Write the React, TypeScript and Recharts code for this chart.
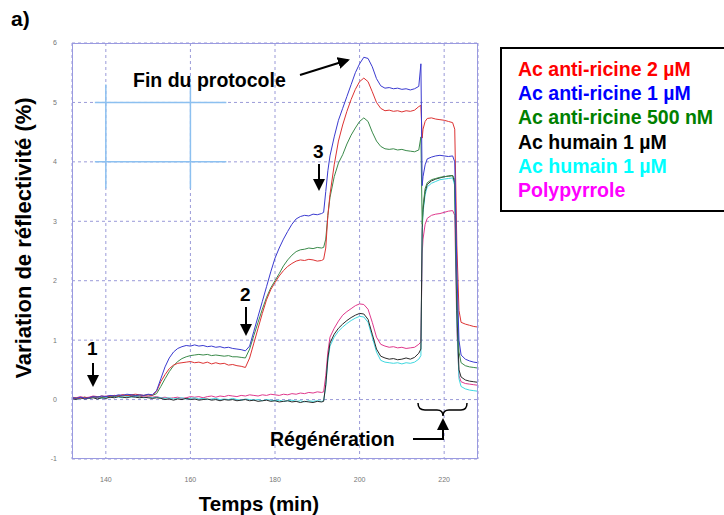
import { LineChart, Line, XAxis, YAxis, CartesianGrid, ReferenceLine } from "recharts";

const TIME = [
  132, 133, 134, 135, 136, 137, 138, 139, 140, 141, 142, 143, 144, 145, 146, 147, 148, 149, 150, 151,
  152, 153, 154, 155, 156, 157, 158, 159, 160, 161, 162, 163, 164, 165, 166, 167, 168, 169, 170, 171,
  172, 173, 174, 175, 176, 177, 178, 179, 180, 181, 182, 183, 184, 185, 186, 187, 188, 189, 190, 191,
  191.5, 192, 192.5, 193, 194, 195, 196, 197, 198, 199, 200, 201, 202, 203, 204, 205, 206, 207, 208, 209,
  210, 211, 212, 213, 214, 214.5, 214.8, 215, 215.5, 216, 217, 218, 219, 220, 221, 222, 222.5, 223, 223.5, 224,
  225, 226, 227, 228,
];

const RED_2UM = [
  0.02, 0.03, 0.02, 0.04, 0.03, 0.05, 0.04, 0.06, 0.05, 0.06, 0.07, 0.06, 0.08, 0.07, 0.08, 0.09, 0.08, 0.07, 0.08, 0.07,
  0.14, 0.3, 0.42, 0.52, 0.58, 0.61, 0.62, 0.63, 0.64, 0.62, 0.63, 0.61, 0.63, 0.6, 0.62, 0.6, 0.61, 0.58, 0.59, 0.57,
  0.56, 0.54, 0.7, 0.95, 1.2, 1.45, 1.68, 1.85, 1.97, 2.08, 2.17, 2.24, 2.29, 2.33, 2.35, 2.34, 2.36, 2.35, 2.33, 2.34,
  2.36, 2.55, 3.1, 3.45, 3.95, 4.35, 4.62, 4.85, 5.05, 5.22, 5.35, 5.41, 5.35, 5.18, 5.0, 4.9, 4.86, 4.87, 4.85, 4.86,
  4.84, 4.86, 4.85, 4.87, 4.93, 4.95, 4.4, 4.55, 4.68, 4.73, 4.74, 4.72, 4.71, 4.7, 4.68, 4.66, 4.55, 2.6, 1.5, 1.3,
  1.27, 1.25, 1.23, 1.22,
];

const BLUE_1UM = [
  0.03, 0.02, 0.04, 0.02, 0.03, 0.05, 0.04, 0.06, 0.05, 0.07, 0.06, 0.08, 0.07, 0.09, 0.08, 0.07, 0.08, 0.07, 0.09, 0.08,
  0.15, 0.35, 0.55, 0.7, 0.8, 0.86, 0.89, 0.91, 0.9, 0.92, 0.9, 0.91, 0.89, 0.9, 0.88, 0.89, 0.87, 0.88, 0.86, 0.85,
  0.84, 0.82, 0.9, 1.15, 1.4, 1.65, 1.9, 2.15, 2.38, 2.55, 2.7, 2.83, 2.95, 3.04, 3.08, 3.1, 3.09, 3.12, 3.11, 3.13,
  3.15, 3.5, 3.85, 4.1, 4.42, 4.7, 4.9, 5.1, 5.3, 5.5, 5.65, 5.76, 5.74, 5.6, 5.4, 5.28, 5.24, 5.25, 5.23, 5.24,
  5.22, 5.23, 5.21, 5.23, 5.27, 5.65, 3.6, 3.75, 3.95, 4.05, 4.08, 4.1, 4.11, 4.1, 4.09, 4.1, 4.0, 2.2, 1.0, 0.75,
  0.68, 0.65, 0.63, 0.62,
];

const GREEN_500NM = [
  0.03, 0.02, 0.03, 0.04, 0.02, 0.04, 0.05, 0.04, 0.05, 0.06, 0.05, 0.07, 0.06, 0.07, 0.08, 0.07, 0.06, 0.07, 0.08, 0.07,
  0.1, 0.22, 0.35, 0.47, 0.57, 0.64, 0.69, 0.72, 0.74, 0.75, 0.76, 0.75, 0.76, 0.74, 0.75, 0.74, 0.73, 0.74, 0.72, 0.72,
  0.71, 0.7, 0.85, 1.08, 1.3, 1.52, 1.72, 1.88, 2.0, 2.12, 2.25, 2.35, 2.43, 2.49, 2.52, 2.53, 2.55, 2.54, 2.56, 2.55,
  2.56, 2.7, 3.1, 3.4, 3.75, 3.98, 4.12, 4.3, 4.45, 4.57, 4.68, 4.74, 4.68, 4.5, 4.35, 4.26, 4.22, 4.21, 4.22, 4.2,
  4.21, 4.19, 4.18, 4.17, 4.2, 4.42, 2.95, 3.25, 3.55, 3.65, 3.7, 3.72, 3.74, 3.75, 3.76, 3.77, 3.7, 1.8, 0.8, 0.62,
  0.57, 0.55, 0.54, 0.53,
];

const BLACK_HUMAIN = [
  0.02, 0.0, 0.03, 0.01, 0.02, 0.03, 0.01, 0.03, 0.02, 0.04, 0.03, 0.05, 0.04, 0.03, 0.05, 0.04, 0.03, 0.04, 0.03, 0.02,
  0.03, 0.02, 0.0, 0.01, -0.01, 0.01, 0.0, 0.02, 0.0, 0.01, -0.01, 0.0, 0.01, -0.01, 0.0, -0.02, 0.0, -0.01, 0.0, -0.02,
  -0.01, 0.0, -0.02, -0.01, -0.03, -0.02, -0.01, -0.03, -0.02, -0.04, -0.03, -0.02, -0.04, -0.03, -0.05, -0.03, -0.04, -0.05, -0.03, -0.04,
  -0.03, 0.25, 0.7, 0.95, 1.1, 1.2, 1.27, 1.33, 1.38, 1.42, 1.45, 1.44, 1.35, 1.1, 0.85, 0.73, 0.7, 0.68, 0.69, 0.67,
  0.68, 0.7, 0.68, 0.71, 0.78, 0.85, 2.9, 3.2, 3.5, 3.62, 3.68, 3.71, 3.73, 3.75, 3.76, 3.77, 3.65, 1.5, 0.5, 0.38,
  0.33, 0.31, 0.3, 0.29,
];

const CYAN_HUMAIN = [
  0.03, 0.02, 0.01, 0.03, 0.02, 0.04, 0.03, 0.02, 0.04, 0.03, 0.05, 0.04, 0.03, 0.05, 0.04, 0.05, 0.04, 0.03, 0.04, 0.03,
  0.04, 0.03, 0.02, 0.03, 0.01, 0.02, 0.03, 0.01, 0.02, 0.03, 0.01, 0.02, 0.0, 0.01, 0.02, 0.0, 0.01, 0.0, 0.02, 0.0,
  -0.01, 0.01, 0.0, -0.01, 0.0, -0.02, 0.0, -0.01, -0.02, -0.01, -0.03, -0.02, -0.01, -0.03, -0.02, -0.04, -0.02, -0.03, -0.02, -0.03,
  -0.02, 0.22, 0.65, 0.9, 1.05, 1.15, 1.22, 1.28, 1.33, 1.37, 1.4, 1.39, 1.3, 1.05, 0.8, 0.66, 0.63, 0.62, 0.61, 0.62,
  0.6, 0.62, 0.61, 0.63, 0.68, 0.74, 2.8, 3.15, 3.45, 3.58, 3.64, 3.67, 3.7, 3.71, 3.72, 3.73, 3.6, 1.3, 0.35, 0.22,
  0.18, 0.16, 0.15, 0.14,
];

const MAGENTA_PPY = [
  0.04, 0.03, 0.05, 0.03, 0.04, 0.06, 0.05, 0.04, 0.06, 0.05, 0.07, 0.06, 0.08, 0.06, 0.07, 0.05, 0.06, 0.04, 0.05, 0.04,
  0.05, 0.03, 0.04, 0.02, 0.03, 0.04, 0.02, 0.03, 0.05, 0.04, 0.05, 0.03, 0.05, 0.06, 0.04, 0.06, 0.05, 0.07, 0.06, 0.05,
  0.07, 0.06, 0.08, 0.07, 0.06, 0.08, 0.07, 0.09, 0.08, 0.07, 0.09, 0.08, 0.1, 0.09, 0.11, 0.1, 0.12, 0.11, 0.13, 0.12,
  0.13, 0.4, 0.8, 1.05, 1.2, 1.32, 1.42, 1.48, 1.53, 1.58, 1.61, 1.6, 1.52, 1.3, 1.05, 0.93, 0.9, 0.88, 0.89, 0.87,
  0.88, 0.86, 0.87, 0.88, 0.93, 0.97, 2.45, 2.7, 2.95, 3.05, 3.1, 3.12, 3.13, 3.15, 3.17, 3.18, 3.1, 1.2, 0.4, 0.3,
  0.27, 0.26, 0.25, 0.24,
];

const X_TICKS = [140, 160, 180, 200, 220];
const Y_TICKS = [-1, 0, 1, 2, 3, 4, 5, 6];

const LEGEND = [
  { label: "Ac anti-ricine 2 µM", color: "#ff0000" },
  { label: "Ac anti-ricine 1 µM", color: "#0000ff" },
  { label: "Ac anti-ricine 500 nM", color: "#008000" },
  { label: "Ac humain 1 µM", color: "#000000" },
  { label: "Ac humain 1 µM", color: "#00ffff" },
  { label: "Polypyrrole", color: "#ff00ff" },
];

const data = TIME.map((t, i) => ({
  t,
  red: RED_2UM[i],
  blue: BLUE_1UM[i],
  green: GREEN_500NM[i],
  black: BLACK_HUMAIN[i],
  cyan: CYAN_HUMAIN[i],
  magenta: MAGENTA_PPY[i],
}));

// light blue cross marks left over in the scanned figure
const artefactsH = [5, 4];
const artefactsV = [140, 160];

const bold = { fontFamily: "Arial, 'Liberation Sans', sans-serif", fontWeight: 700, color: "#000" } as const;

export default function App() {
  return (
    <div style={{ position: "absolute", left: 0, top: 0, width: 724, height: 515, background: "#fff" }}>
      <LineChart width={724} height={515} data={data} margin={{ top: 43, right: 246, bottom: 26, left: 52 }}>
        <CartesianGrid stroke="#9a9ad8" strokeDasharray="3 3" />
        <XAxis
          dataKey="t"
          type="number"
          domain={[132, 228]}
          ticks={X_TICKS}
          axisLine={false}
          tickLine={false}
          tickMargin={12}
          tick={{ fontSize: 7, fill: "#777", fontFamily: "Arial" }}
          height={30}
        />
        <YAxis
          type="number"
          domain={[-1, 6]}
          ticks={Y_TICKS}
          axisLine={false}
          tickLine={false}
          tickMargin={9}
          width={20}
          tick={{ fontSize: 7, fill: "#777", fontFamily: "Arial" }}
        />
        {artefactsH.map((y) => (
          <ReferenceLine key={`h${y}`} segment={[{ x: 137.4, y }, { x: 168.5, y }]} stroke="#8cc0f0" strokeWidth={1.5} />
        ))}
        {artefactsV.map((x) => (
          <ReferenceLine key={`v${x}`} segment={[{ x, y: 5.3 }, { x, y: 3.55 }]} stroke="#8cc0f0" strokeWidth={1.5} />
        ))}
        <Line dataKey="magenta" stroke="#e0388c" strokeWidth={1} dot={false} isAnimationActive={false} />
        <Line dataKey="cyan" stroke="#3fd8e0" strokeWidth={1} dot={false} isAnimationActive={false} />
        <Line dataKey="black" stroke="#2a2a2a" strokeWidth={1} dot={false} isAnimationActive={false} />
        <Line dataKey="green" stroke="#3a8a4a" strokeWidth={1} dot={false} isAnimationActive={false} />
        <Line dataKey="red" stroke="#dd3333" strokeWidth={1} dot={false} isAnimationActive={false} />
        <Line dataKey="blue" stroke="#3a3ad0" strokeWidth={1} dot={false} isAnimationActive={false} />
      </LineChart>

      {/* plot frame */}
      <div
        style={{
          position: "absolute",
          left: 72,
          top: 43,
          width: 406,
          height: 416,
          border: "1.5px solid #9a9ae0",
          boxSizing: "border-box",
          pointerEvents: "none",
        }}
      />

      {/* annotations */}
      <svg width={724} height={515} style={{ position: "absolute", left: 0, top: 0, pointerEvents: "none" }}>
        <defs>
          <marker id="ah" markerWidth="6" markerHeight="6" refX="5" refY="3" orient="auto" markerUnits="strokeWidth">
            <path d="M0,0 L6,3 L0,6 z" fill="#000" />
          </marker>
        </defs>
        <line x1={300} y1={75} x2={348} y2={60} stroke="#000" strokeWidth={2} markerEnd="url(#ah)" />
        <line x1={93} y1={363} x2={93} y2={385} stroke="#000" strokeWidth={2} markerEnd="url(#ah)" />
        <line x1={246} y1={307} x2={246} y2={334} stroke="#000" strokeWidth={2} markerEnd="url(#ah)" />
        <line x1={319} y1={164} x2={319} y2={189} stroke="#000" strokeWidth={2} markerEnd="url(#ah)" />
        {/* brace */}
        <path
          d="M418,403 Q418,410 425,410 L437,410 Q443,410 443,416 Q443,410 449,410 L461,410 Q467,410 467,403"
          fill="none"
          stroke="#000"
          strokeWidth={1.5}
        />
        <polyline points="413,439 443,439 443,428" fill="none" stroke="#000" strokeWidth={2} />
        <path d="M437,430 L443,418 L449,430 z" fill="#000" />
      </svg>

      <div style={{ ...bold, position: "absolute", left: 11, top: 7, fontSize: 21 }}>a)</div>
      <div style={{ ...bold, position: "absolute", left: 133, top: 69, fontSize: 19.5 }}>Fin du protocole</div>
      <div style={{ ...bold, position: "absolute", left: 87, top: 338, fontSize: 19 }}>1</div>
      <div style={{ ...bold, position: "absolute", left: 240, top: 284, fontSize: 19 }}>2</div>
      <div style={{ ...bold, position: "absolute", left: 313, top: 141, fontSize: 19 }}>3</div>
      <div style={{ ...bold, position: "absolute", left: 270, top: 428, fontSize: 19.5 }}>Régénération</div>
      <div
        style={{
          ...bold,
          position: "absolute",
          left: 24,
          top: 238,
          fontSize: 22,
          whiteSpace: "nowrap",
          transform: "translate(-50%, -50%) rotate(-90deg)",
        }}
      >
        Variation de réflectivité (%)
      </div>
      <div style={{ ...bold, position: "absolute", left: 259, top: 504, fontSize: 20.5, transform: "translate(-50%, -50%)", whiteSpace: "nowrap" }}>
        Temps (min)
      </div>

      {/* legend box */}
      <div
        style={{
          position: "absolute",
          left: 500,
          top: 47,
          width: 230,
          height: 165,
          border: "2px solid #000",
          boxSizing: "border-box",
          background: "#fff",
        }}
      >
        {LEGEND.map((item, i) => (
          <div
            key={i}
            style={{
              ...bold,
              color: item.color,
              position: "absolute",
              left: 16,
              top: 9 + i * 24.2,
              fontSize: 19.5,
              lineHeight: "22px",
              whiteSpace: "nowrap",
            }}
          >
            {item.label}
          </div>
        ))}
      </div>
    </div>
  );
}
